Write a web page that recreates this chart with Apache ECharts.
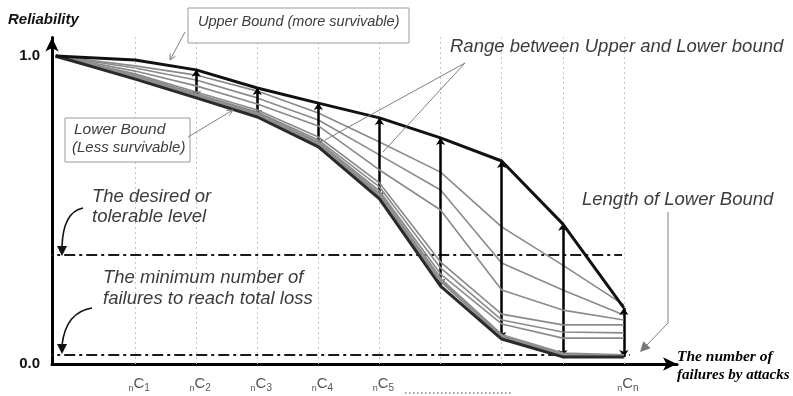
<!DOCTYPE html>
<html><head><meta charset="utf-8">
<script src="https://cdn.jsdelivr.net/npm/echarts@6/dist/echarts.min.js"></script>
<style>html,body{margin:0;padding:0;background:#fff}#c{width:793px;height:396px}</style>
</head><body><div id="c"></div>
<script>
// ---- data (x = attack-failure step, y = reliability) ----
const xPoints    = [-0.3, 1, 2, 3, 4, 5, 6, 7, 8, 9];
const upperBound = [1.0, 0.987, 0.955, 0.896, 0.847, 0.799, 0.734, 0.659, 0.455, 0.182];
const mid1       = [1.0, 0.968, 0.938, 0.886, 0.815, 0.721, 0.623, 0.445, 0.321, 0.192];
const mid2       = [1.0, 0.961, 0.922, 0.864, 0.792, 0.679, 0.565, 0.328, 0.240, 0.159];
const mid3       = [1.0, 0.951, 0.903, 0.844, 0.773, 0.630, 0.500, 0.240, 0.175, 0.143];
const mid4       = [1.0, 0.942, 0.883, 0.825, 0.737, 0.588, 0.331, 0.162, 0.127, 0.127];
const mid5       = [1.0, 0.938, 0.877, 0.818, 0.727, 0.575, 0.312, 0.143, 0.104, 0.101];
const mid6       = [1.0, 0.935, 0.873, 0.815, 0.721, 0.562, 0.292, 0.130, 0.084, 0.084];
const mid7       = [1.0, 0.932, 0.870, 0.808, 0.714, 0.549, 0.273, 0.091, 0.032, 0.026];
const lowerBound = [1.0, 0.925, 0.864, 0.802, 0.705, 0.536, 0.253, 0.081, 0.023, 0.023];
const arrowIdx   = [2, 3, 4, 5, 6, 7, 8, 9];
const gridXs     = [1, 2, 3, 4, 5, 6, 7, 8, 9];
const xTickPos   = [1, 2, 3, 4, 5, 9];
const xTickSub   = ['1', '2', '3', '4', '5', 'n'];
const yTickPos   = [0, 1];
const yTickLabels= ['0.0', '1.0'];
const desiredLevel = 0.354;
const desiredLevelX = [-0.88, 8.97];
const minLevel = 0.029;
const minLevelX = [-0.88, 9.1];

// ---- build ----
const zip = arr => xPoints.map((x, i) => [x, arr[i]]);
const curveDefs = [
  {d: mid1, c: '#8a8a8a', w: 1.6},
  {d: mid2, c: '#8a8a8a', w: 1.6},
  {d: mid3, c: '#8a8a8a', w: 1.6},
  {d: mid4, c: '#8a8a8a', w: 1.6},
  {d: mid5, c: '#8a8a8a', w: 1.6},
  {d: mid6, c: '#8a8a8a', w: 1.6},
  {d: mid7, c: '#8f8f8f', w: 4},
  {d: lowerBound, c: '#2a2a2a', w: 3},
  {d: upperBound, c: '#111', w: 3}
];
const series = [];
series.push({
  type: 'line', data: [], silent: true, z: 1,
  markLine: {silent: true, symbol: ['none','none'], label: {show: false},
    lineStyle: {type: [2, 3], color: '#c4c4c4', width: 1},
    data: gridXs.map(x => ({xAxis: x}))}
});
curveDefs.forEach((cd, i) => series.push({
  type: 'line', data: zip(cd.d), symbol: 'none', silent: true, z: 3 + i,
  lineStyle: {color: cd.c, width: cd.w, join: 'round'}
}));
[[desiredLevel, desiredLevelX], [minLevel, minLevelX]].forEach(([lv, xs]) => series.push({
  type: 'line', data: xs.map(x => [x, lv]), symbol: 'none', silent: true, clip: false, z: 2,
  lineStyle: {color: '#1a1a1a', width: 2, type: [11, 4, 3, 4]}
}));
series.push({
  type: 'line', data: [], silent: true, z: 20,
  markLine: {silent: true, symbol: ['arrow', 'arrow'], symbolSize: 7, label: {show: false},
    lineStyle: {type: 'solid', color: '#000', width: 2.5},
    data: arrowIdx.map(i => [{coord: [xPoints[i], lowerBound[i]]}, {coord: [xPoints[i], upperBound[i]]}])}
});

function head(x1, y1, x2, y2, len, w) {
  const dx = x2 - x1, dy = y2 - y1, L = Math.hypot(dx, dy), ux = dx / L, uy = dy / L;
  const bx = x2 - ux * len, by = y2 - uy * len;
  return [[bx - uy * w, by + ux * w], [x2, y2], [bx + uy * w, by - ux * w]];
}
const txtFont = 'italic 18.5px "Liberation Sans"';
const tcol = '#3c3c3c';
const T = (x, y, text, font, fill) => ({type: 'text', x, y, z: 200,
  style: {text, font: font || txtFont, fill: fill || tcol, textVerticalAlign: 'middle', textAlign: 'left'}});
const gray = '#808080';
const graphics = [
  T(8, 20, 'Reliability', 'italic bold 15px "Liberation Sans"', '#111'),
  {type: 'rect', z: 150, shape: {x: 188, y: 8, width: 221, height: 35}, style: {fill: '#fff', stroke: '#9a9a9a', lineWidth: 1}},
  T(198, 22, 'Upper Bound (more survivable)', 'italic 14.5px "Liberation Sans"'),
  {type: 'line', z: 150, shape: {x1: 185, y1: 32, x2: 170, y2: 60}, style: {stroke: gray, lineWidth: 1}},
  {type: 'polyline', z: 150, shape: {points: head(185, 32, 170, 60, 6, 3)}, style: {stroke: gray, lineWidth: 1, fill: null}},
  {type: 'rect', z: 150, shape: {x: 65, y: 118, width: 125, height: 44}, style: {fill: '#fff', stroke: '#9a9a9a', lineWidth: 1}},
  T(74, 130, 'Lower Bound', 'italic 15.5px "Liberation Sans"'),
  T(72, 148, '(Less survivable)', 'italic 15px "Liberation Sans"'),
  {type: 'line', z: 150, shape: {x1: 188, y1: 137, x2: 233, y2: 110}, style: {stroke: gray, lineWidth: 1}},
  {type: 'polyline', z: 150, shape: {points: head(188, 137, 233, 110, 6, 3)}, style: {stroke: gray, lineWidth: 1, fill: null}},
  T(450, 47, 'Range between Upper and Lower bound'),
  {type: 'line', z: 150, shape: {x1: 465, y1: 63, x2: 325, y2: 140}, style: {stroke: gray, lineWidth: 1}},
  {type: 'line', z: 150, shape: {x1: 465, y1: 63, x2: 383, y2: 152}, style: {stroke: gray, lineWidth: 1}},
  T(582, 200, 'Length of Lower Bound'),
  {type: 'polyline', z: 150, shape: {points: [[668, 212], [668, 323], [646, 346]]}, style: {stroke: gray, lineWidth: 1, fill: null}},
  {type: 'polygon', z: 150, shape: {points: head(668, 323, 640, 352, 10, 5)}, style: {fill: '#777'}},
  T(92, 197, 'The desired or'),
  T(92, 217, 'tolerable level'),
  {type: 'bezierCurve', z: 150, shape: {x1: 83, y1: 208, cpx1: 63, cpy1: 212, x2: 62, y2: 247}, style: {stroke: '#111', lineWidth: 1.6, fill: null}},
  {type: 'polygon', z: 150, shape: {points: [[57, 246], [67, 246], [62, 256]]}, style: {fill: '#111'}},
  T(103, 278, 'The minimum number of'),
  T(103, 299, 'failures to reach total loss'),
  {type: 'bezierCurve', z: 150, shape: {x1: 92, y1: 308, cpx1: 66, cpy1: 312, x2: 62, y2: 345}, style: {stroke: '#111', lineWidth: 1.6, fill: null}},
  {type: 'polygon', z: 150, shape: {points: [[57, 344], [67, 344], [62, 354]]}, style: {fill: '#111'}},
  T(677, 357, 'The number of', 'italic bold 15.5px "Liberation Serif"', '#000'),
  T(677, 375, 'failures by attacks', 'italic bold 15px "Liberation Serif"', '#000'),
  {type: 'line', z: 150, shape: {x1: 405, y1: 393, x2: 512, y2: 393}, style: {stroke: '#888', lineWidth: 1.3, lineDash: [1.5, 2.5]}}
];

const chart = echarts.init(document.getElementById('c'), null, {renderer: 'canvas'});
chart.setOption({
  animation: false,
  backgroundColor: '#fff',
  grid: {left: 52, right: 116, top: 37.52, bottom: 32, containLabel: false},
  xAxis: {
    type: 'value', min: -0.36, max: 9.87,
    axisLine: {onZero: false, symbol: ['none', 'arrow'], symbolSize: [10, 14], lineStyle: {color: '#000', width: 3}},
    axisTick: {show: false}, splitLine: {show: false},
    axisLabel: {customValues: xTickPos, margin: 11, padding: [0, 0, 0, 8],
      formatter: v => '{n|n}{c|C}{s|' + xTickSub[xTickPos.indexOf(v)] + '}',
      rich: {
        n: {fontSize: 9, fontFamily: 'Liberation Sans', color: '#555', verticalAlign: 'bottom', lineHeight: 10},
        c: {fontSize: 15, fontFamily: 'Liberation Sans', color: '#555', lineHeight: 18, verticalAlign: 'middle'},
        s: {fontSize: 10, fontFamily: 'Liberation Sans', color: '#555', verticalAlign: 'bottom', lineHeight: 10}
      }}
  },
  yAxis: {
    type: 'value', min: 0, max: 1.06,
    axisLine: {onZero: false, show: true, symbol: ['none', 'arrow'], symbolSize: [10, 14], lineStyle: {color: '#000', width: 3}},
    axisTick: {show: false}, splitLine: {show: false},
    axisLabel: {customValues: yTickPos, margin: 12, color: '#111',
      fontFamily: 'Liberation Sans', fontWeight: 'bold', fontSize: 15,
      formatter: v => yTickLabels[yTickPos.indexOf(v)]}
  },
  series,
  graphic: {elements: graphics}
});
</script></body></html>
